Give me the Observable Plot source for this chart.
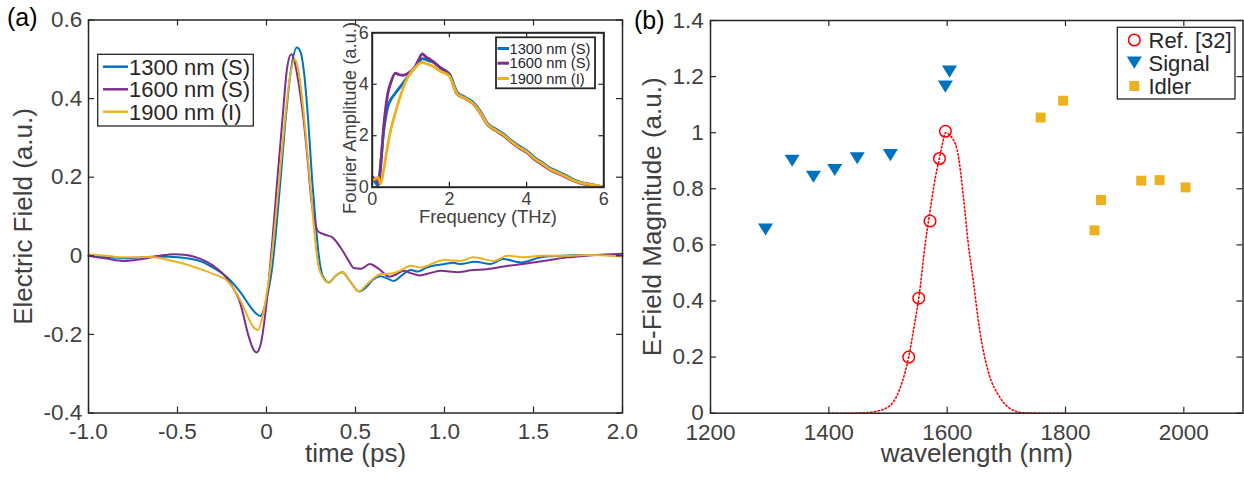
<!DOCTYPE html>
<html><head><meta charset="utf-8">
<script src="https://cdn.jsdelivr.net/npm/d3@7"></script>
<script src="https://cdn.jsdelivr.net/npm/@observablehq/plot@0.6"></script>
<style>
body{margin:0;background:#fff}
#wrap{position:relative;width:1244px;height:477px;overflow:hidden;background:#fff}
#wrap > div{position:absolute}
</style></head><body>
<div id="wrap"><div id="pa" style="left:0;top:0"></div><div id="pb" style="left:630px;top:0"></div><div id="pi" style="left:320px;top:10px"></div></div>
<script>
// ---------- data: panel (a) time-domain fields ----------
const seriesNames = ["1300 nm (S)", "1600 nm (S)", "1900 nm (I)"];
const t1300 = [-1.0,-0.9,-0.8,-0.7,-0.6,-0.52,-0.45,-0.37,-0.3,-0.22,-0.146,-0.09,-0.055,-0.034,-0.01,0.01,0.032,0.055,0.08,0.11,0.14,0.17,0.19,0.21,0.235,0.257,0.275,0.294,0.315,0.35,0.39,0.425,0.47,0.519,0.56,0.6,0.64,0.68,0.715,0.76,0.81,0.85,0.9,0.95,1.0,1.05,1.09,1.17,1.26,1.33,1.43,1.54,1.65,1.75,1.9,2.0];
const e1300 = [0,-0.004,-0.006,-0.004,-0.002,-0.003,-0.006,-0.014,-0.03,-0.055,-0.093,-0.13,-0.148,-0.153,-0.13,-0.09,-0.03,0.07,0.2,0.36,0.48,0.53,0.52,0.47,0.34,0.19,0.09,0.0,-0.05,-0.068,-0.05,-0.042,-0.065,-0.091,-0.08,-0.06,-0.052,-0.058,-0.064,-0.05,-0.036,-0.04,-0.03,-0.024,-0.021,-0.018,-0.021,-0.015,-0.021,-0.008,-0.017,-0.004,0.0,0.002,0.002,0.0];
const t1600 = [-1.0,-0.9,-0.8,-0.7,-0.6,-0.52,-0.45,-0.37,-0.3,-0.22,-0.146,-0.1,-0.075,-0.056,-0.03,-0.01,0.013,0.035,0.06,0.09,0.116,0.139,0.16,0.18,0.205,0.23,0.25,0.27,0.29,0.31,0.34,0.37,0.416,0.462,0.49,0.53,0.58,0.63,0.69,0.73,0.77,0.81,0.86,0.92,0.98,1.03,1.07,1.15,1.24,1.35,1.5,1.6,1.69,1.8,1.9,2.0];
const e1600 = [0,-0.007,-0.013,-0.008,0.0,0.004,0.002,-0.008,-0.025,-0.059,-0.123,-0.205,-0.237,-0.246,-0.22,-0.16,-0.064,0.05,0.19,0.35,0.479,0.513,0.49,0.44,0.36,0.25,0.15,0.09,0.062,0.057,0.052,0.047,0.021,-0.013,-0.031,-0.033,-0.021,-0.033,-0.053,-0.047,-0.038,-0.044,-0.05,-0.044,-0.038,-0.04,-0.042,-0.037,-0.034,-0.026,-0.017,-0.01,-0.004,0.0,0.003,0.005];
const t1900 = [-1.0,-0.9,-0.8,-0.65,-0.52,-0.45,-0.37,-0.3,-0.22,-0.146,-0.1,-0.07,-0.049,-0.02,0.0,0.025,0.05,0.075,0.1,0.13,0.159,0.18,0.205,0.23,0.252,0.275,0.3,0.35,0.39,0.425,0.47,0.519,0.57,0.64,0.7,0.75,0.81,0.87,0.93,1.0,1.09,1.16,1.28,1.35,1.45,1.54,1.65,1.83,2.0];
const e1900 = [0.003,0.0,-0.004,-0.003,-0.014,-0.022,-0.034,-0.046,-0.064,-0.114,-0.16,-0.183,-0.189,-0.15,-0.1,-0.02,0.09,0.21,0.33,0.45,0.5,0.47,0.38,0.26,0.15,0.03,-0.04,-0.068,-0.05,-0.042,-0.065,-0.09,-0.07,-0.047,-0.045,-0.038,-0.025,-0.03,-0.02,-0.011,-0.013,-0.004,-0.013,0.0,-0.004,0.0,0.0,0.002,-0.002];

// ---------- data: inset Fourier amplitudes ----------
const f1300 = [0,0.1,0.15,0.2,0.3,0.4,0.5,0.6,0.7,0.8,0.9,1.0,1.1,1.2,1.3,1.4,1.5,1.6,1.7,1.8,1.9,2.0,2.2,2.4,2.6,2.8,3.0,3.2,3.4,3.6,3.8,4.0,4.2,4.4,4.6,4.8,5.0,5.2,5.4,5.6,5.8,6.0];
const a1300 = [0.3,0.15,0.05,0.6,2.2,3.1,3.45,3.65,3.85,4.05,4.25,4.45,4.65,4.85,5.0,4.95,4.9,4.85,4.72,4.62,4.52,4.4,3.7,3.5,3.32,2.95,2.46,2.26,2.07,1.82,1.6,1.42,1.16,0.96,0.75,0.61,0.47,0.31,0.19,0.13,0.07,0.0];
const f1600 = [0,0.1,0.17,0.2,0.3,0.4,0.5,0.6,0.7,0.8,0.9,1.0,1.1,1.2,1.3,1.4,1.5,1.6,1.7,1.8,1.9,2.0,2.2,2.4,2.6,2.8,3.0,3.2,3.4,3.6,3.8,4.0,4.2,4.4,4.6,4.8,5.0,5.2,5.4,5.6,5.8,6.0];
const a1600 = [0.39,0.3,0.13,0.5,2.4,3.6,4.15,4.43,4.37,4.35,4.4,4.5,4.65,4.95,5.18,5.05,4.97,4.85,4.72,4.6,4.52,4.36,3.62,3.45,3.26,2.88,2.4,2.2,2.0,1.75,1.53,1.35,1.08,0.88,0.68,0.54,0.4,0.26,0.15,0.1,0.05,-0.02];
const f1900 = [0,0.1,0.15,0.22,0.3,0.4,0.5,0.6,0.7,0.8,0.9,1.0,1.1,1.2,1.3,1.4,1.5,1.6,1.7,1.8,1.9,2.0,2.2,2.4,2.6,2.8,3.0,3.2,3.4,3.6,3.8,4.0,4.2,4.4,4.6,4.8,5.0,5.2,5.4,5.6,5.8,6.0];
const a1900 = [0.25,0.35,0.38,0.13,0.7,1.6,2.35,2.9,3.4,3.85,4.2,4.45,4.62,4.78,4.85,4.8,4.75,4.68,4.57,4.48,4.42,4.32,3.64,3.46,3.27,2.9,2.42,2.22,2.03,1.78,1.56,1.38,1.12,0.92,0.71,0.57,0.43,0.28,0.17,0.12,0.07,0.0];

// ---------- data: panel (b) ----------
const refWl = [1535, 1552, 1571, 1587, 1597];
const refMag = [0.20, 0.41, 0.685, 0.908, 1.005];
const fitWl = [1400,1440,1465,1481,1504,1523,1535,1545,1552,1563,1571,1580,1587,1592,1597,1605,1617,1628,1635,1644,1655,1669,1689,1712,1730,1760,1800];
const fitMag = [0,0,0.002,0.007,0.028,0.105,0.2,0.32,0.41,0.605,0.72,0.84,0.91,0.96,1.0,0.99,0.938,0.76,0.617,0.474,0.295,0.152,0.057,0.01,0.001,0,0];
const sigWl = [1293, 1338, 1374, 1410, 1448, 1504, 1597, 1604];
const sigMag = [0.655, 0.90, 0.843, 0.867, 0.909, 0.92, 1.164, 1.218];
const idlWl = [1758, 1796, 1849, 1860, 1928, 1959, 2003];
const idlMag = [1.054, 1.114, 0.652, 0.76, 0.829, 0.831, 0.805];

// ---------- tick labels ----------
const xTicksA = [-1, -0.5, 0, 0.5, 1, 1.5, 2];
const yTicksA = [-0.4, -0.2, 0, 0.2, 0.4, 0.6];
const xTicksI = [0, 2, 4, 6];
const yTicksI = [0, 2, 4, 6];
const xTicksB = [1200, 1400, 1600, 1800, 2000];
const yTicksB = [0, 0.2, 0.4, 0.6, 0.8, 1, 1.2, 1.4];

// ---------- styling ----------
const FONT = '"Liberation Sans", Arial, Helvetica, sans-serif';
const AX = "#262626", TXT = "#404040";
const COLORS = ["#0072BD", "#7E2F8E", "#EDB120"];
const fmt1 = d => d === 0 ? "0" : d.toFixed(1);
const fmtB = d => Math.abs(d - Math.round(d)) < 1e-9 ? String(Math.round(d)) : d.toFixed(1);

const zip = (name, xs, ys, kx, ky) => xs.map((x, i) => ({s: name, [kx]: x, [ky]: ys[i]}));
const fieldData = [
  ...zip(seriesNames[0], t1300, e1300, "t", "v"),
  ...zip(seriesNames[1], t1600, e1600, "t", "v"),
  ...zip(seriesNames[2], t1900, e1900, "t", "v")
];
const fourierData = [
  ...zip(seriesNames[0], f1300, a1300, "f", "a"),
  ...zip(seriesNames[1], f1600, a1600, "f", "a"),
  ...zip(seriesNames[2], f1900, a1900, "f", "a")
];
const refData = refWl.map((w, i) => ({w, m: refMag[i]}));
const fitData = fitWl.map((w, i) => ({w, m: fitMag[i]}));
const sigData = sigWl.map((w, i) => ({w, m: sigMag[i]}));
const idlData = idlWl.map((w, i) => ({w, m: idlMag[i]}));

// custom marker symbols (MATLAB 'v' and 's')
const triDown = {draw(ctx, size) { const r = Math.sqrt(size / Math.PI); const w = r * 1.3, h = r * 1.05; ctx.moveTo(-w, -h); ctx.lineTo(w, -h); ctx.lineTo(0, h); ctx.closePath(); }};
const square = {draw(ctx, size) { const r = Math.sqrt(size / Math.PI); const s = r * 0.86; ctx.rect(-s, -s, 2 * s, 2 * s); }};

// inward ticks on all four sides
function innerTicks(xt, yt, fw, fh, len, sw) {
  return [
    Plot.ruleX(xt, {x: d => d, insetTop: fh - len, stroke: AX, strokeWidth: sw}),
    Plot.ruleX(xt, {x: d => d, insetBottom: fh - len, stroke: AX, strokeWidth: sw}),
    Plot.ruleY(yt, {y: d => d, insetRight: fw - len, stroke: AX, strokeWidth: sw}),
    Plot.ruleY(yt, {y: d => d, insetLeft: fw - len, stroke: AX, strokeWidth: sw})
  ];
}

// ---------- panel (a) ----------
{
  const W = 630, H = 477, mL = 88, mR = 8, mT = 19.5, mB = 64.5;
  const pa = Plot.plot({
    width: W, height: H, marginLeft: mL, marginRight: mR, marginTop: mT, marginBottom: mB,
    style: {fontFamily: FONT, fontSize: "22.5px", color: TXT, background: "transparent", overflow: "visible"},
    x: {domain: [-1, 2], label: null},
    y: {domain: [-0.4, 0.6], label: null},
    color: {domain: seriesNames, range: COLORS},
    marks: [
      Plot.line(fieldData, {x: "t", y: "v", z: "s", stroke: "s", strokeWidth: 2, curve: "monotone-x"}),
      ...innerTicks(xTicksA, yTicksA, W - mL - mR, H - mT - mB, 6, 1.2),
      Plot.frame({stroke: AX, strokeWidth: 1.5}),
      Plot.axisX(xTicksA, {tickSize: 0, tickPadding: 10.5, tickFormat: fmt1, label: null}),
      Plot.axisY(yTicksA, {tickSize: 0, tickPadding: 6.3, tickFormat: fmt1, label: null}),
      Plot.text(["time (ps)"], {text: d => d, frameAnchor: "bottom", textAnchor: "middle", lineAnchor: "bottom", dy: 49, fontSize: 26, fill: TXT}),
      Plot.text(["Electric Field (a.u.)"], {text: d => d, frameAnchor: "left", textAnchor: "middle", lineAnchor: "bottom", rotate: -90, dx: -56.3, fontSize: 26, fill: TXT})
    ]
  });
  document.getElementById("pa").append(pa);
}

// ---------- inset ----------
{
  const W = 292, H = 220, mL = 51.7, mR = 8.7, mT = 22.3, mB = 43.3;
  const pi = Plot.plot({
    width: W, height: H, marginLeft: mL, marginRight: mR, marginTop: mT, marginBottom: mB,
    style: {fontFamily: FONT, fontSize: "18px", color: TXT, background: "transparent", overflow: "visible"},
    x: {domain: [0, 6], label: null},
    y: {domain: [0, 6], label: null},
    color: {domain: seriesNames, range: COLORS},
    marks: [
      Plot.frame({fill: "white"}),
      Plot.line(fourierData, {x: "f", y: "a", z: "s", stroke: "s", strokeWidth: 2.8, curve: "monotone-x", clip: true}),
      ...innerTicks(xTicksI, yTicksI, W - mL - mR, H - mT - mB, 5, 1.2),
      Plot.frame({stroke: AX, strokeWidth: 2}),
      Plot.axisX(xTicksI, {tickSize: 0, tickPadding: 5.5, tickFormat: d => String(d), label: null}),
      Plot.axisY(yTicksI, {tickSize: 0, tickPadding: 3.4, tickFormat: d => String(d), label: null}),
      Plot.text(["Frequency (THz)"], {text: d => d, frameAnchor: "bottom", textAnchor: "middle", lineAnchor: "bottom", dy: 35.5, fontSize: 18.4, fill: TXT}),
      Plot.text(["Fourier Amplitude (a.u.)"], {text: d => d, frameAnchor: "left", textAnchor: "middle", lineAnchor: "bottom", rotate: -90, dx: -16.7, dy: 8, fontSize: 18.4, fill: TXT})
    ]
  });
  document.getElementById("pi").append(pi);
}

// ---------- panel (b) ----------
{
  const W = 614, H = 477, mL = 80, mR = 1.5, mT = 20, mB = 64.3;
  const pb = Plot.plot({
    width: W, height: H, marginLeft: mL, marginRight: mR, marginTop: mT, marginBottom: mB,
    style: {fontFamily: FONT, fontSize: "22.5px", color: TXT, background: "transparent", overflow: "visible"},
    x: {domain: [1200, 2100], label: null},
    y: {domain: [0, 1.4], label: null},
    marks: [
      Plot.line(fitData, {x: "w", y: "m", stroke: "#ff0000", strokeWidth: 1.6, strokeDasharray: "1.4,2.4", curve: "monotone-x"}),
      Plot.dot(refData, {x: "w", y: "m", r: 5.8, stroke: "#ff0000", fill: "none", strokeWidth: 1.5}),
      Plot.dot(sigData, {x: "w", y: "m", r: 5.8, symbol: triDown, fill: COLORS[0], stroke: "none"}),
      Plot.dot(idlData, {x: "w", y: "m", r: 5.8, symbol: square, fill: COLORS[2], stroke: "none"}),
      ...innerTicks(xTicksB, yTicksB, W - mL - mR, H - mT - mB, 6, 1.2),
      Plot.frame({stroke: AX, strokeWidth: 1.5}),
      Plot.axisX(xTicksB, {tickSize: 0, tickPadding: 10.5, tickFormat: fmtB, label: null}),
      Plot.axisY(yTicksB, {tickSize: 0, tickPadding: 6.7, tickFormat: fmtB, label: null}),
      Plot.text(["wavelength (nm)"], {text: d => d, frameAnchor: "bottom", textAnchor: "middle", lineAnchor: "bottom", dy: 49, fontSize: 26, fill: TXT}),
      Plot.text(["E-Field Magnitude (a.u.)"], {text: d => d, frameAnchor: "left", textAnchor: "middle", lineAnchor: "bottom", rotate: -90, dx: -50, fontSize: 26, fill: TXT})
    ]
  });
  document.getElementById("pb").append(pb);
}

// ---------- legends and panel letters (overlay) ----------
{
  const ov = d3.select("#wrap").append("svg")
    .attr("width", 1244).attr("height", 477)
    .style("position", "absolute").style("left", "0px").style("top", "0px")
    .style("pointer-events", "none").style("font-family", FONT);

  // panel (a) legend
  ov.append("rect").attr("x", 97.7).attr("y", 54.3).attr("width", 155.6).attr("height", 71.7)
    .attr("fill", "white").attr("stroke", AX).attr("stroke-width", 1.3);
  [66.7, 89.3, 111.7].forEach((y, i) => {
    ov.append("line").attr("x1", 103).attr("x2", 128).attr("y1", y).attr("y2", y)
      .attr("stroke", COLORS[i]).attr("stroke-width", 2.5);
    ov.append("text").attr("x", 129).attr("y", y).attr("dy", "0.36em")
      .attr("font-size", 22).attr("fill", AX).text(seriesNames[i]);
  });

  // inset legend
  ov.append("rect").attr("x", 496).attr("y", 37.3).attr("width", 99).attr("height", 51)
    .attr("fill", "white").attr("stroke", AX).attr("stroke-width", 1.8);
  [48.5, 63.2, 78.5].forEach((y, i) => {
    ov.append("line").attr("x1", 497.5).attr("x2", 509).attr("y1", y).attr("y2", y)
      .attr("stroke", COLORS[i]).attr("stroke-width", 3);
    ov.append("text").attr("x", 509.5).attr("y", y).attr("dy", "0.36em")
      .attr("font-size", 14.7).attr("fill", AX).text(seriesNames[i]);
  });

  // panel (b) legend
  const legB = ["Ref. [32]", "Signal", "Idler"];
  ov.append("rect").attr("x", 1117.3).attr("y", 27.3).attr("width", 117.7).attr("height", 71.7)
    .attr("fill", "white").attr("stroke", AX).attr("stroke-width", 1.3);
  const rowsB = [40, 62.7, 86];
  const size = 5.8 * 5.8 * Math.PI;
  ov.append("circle").attr("cx", 1134.3).attr("cy", rowsB[0]).attr("r", 5.8)
    .attr("fill", "none").attr("stroke", "#ff0000").attr("stroke-width", 1.5);
  ov.append("path").attr("transform", `translate(1134.3,${rowsB[1]})`)
    .attr("d", d3.symbol(triDown, size)()).attr("fill", COLORS[0]);
  ov.append("path").attr("transform", `translate(1134.3,${rowsB[2]})`)
    .attr("d", d3.symbol(square, size)()).attr("fill", COLORS[2]);
  rowsB.forEach((y, i) => {
    ov.append("text").attr("x", 1148.5).attr("y", y).attr("dy", "0.36em")
      .attr("font-size", 22).attr("fill", AX).text(legB[i]);
  });

  // panel letters
  ov.append("text").attr("x", 7).attr("y", 25.5).attr("font-size", 25).attr("fill", "#000").text("(a)");
  ov.append("text").attr("x", 634).attr("y", 28.5).attr("font-size", 25).attr("fill", "#000").text("(b)");
}
</script>
</body></html>
